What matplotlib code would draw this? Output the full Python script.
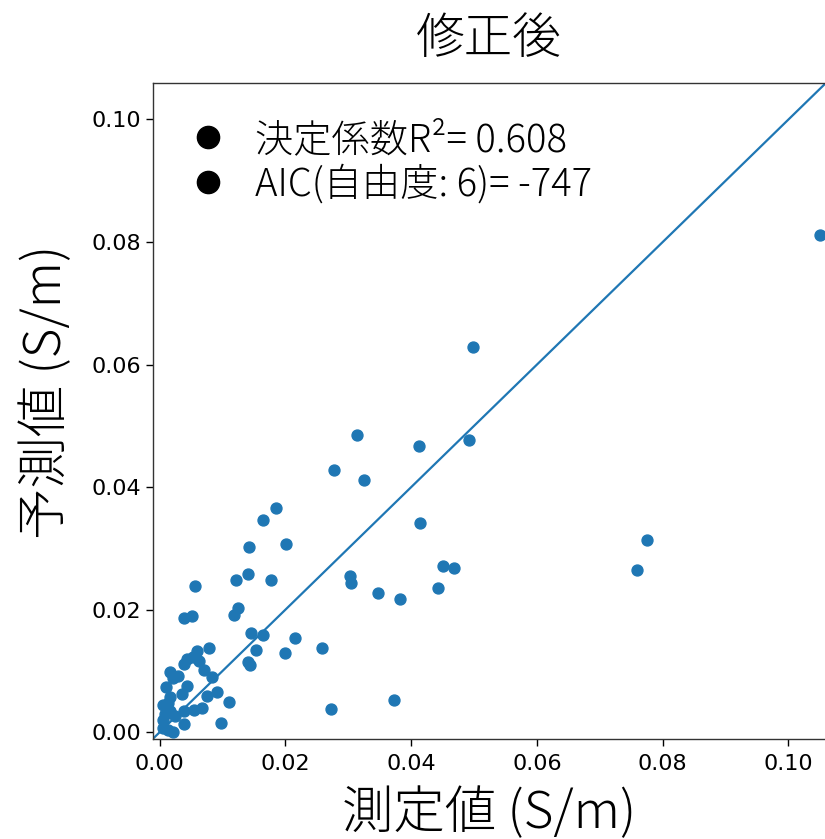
import matplotlib
matplotlib.use("Agg")
import matplotlib.pyplot as plt
from matplotlib.lines import Line2D
import numpy as np

# measured (x) and predicted (y) values, S/m
measured = [0.1050, 0.0499, 0.0314, 0.0492, 0.0412, 0.0277, 0.0325, 0.0185, 0.0165, 0.0414,
            0.0142, 0.0201, 0.0775, 0.0759, 0.0450, 0.0468, 0.0443, 0.0303, 0.0305, 0.0347,
            0.0383, 0.0140, 0.0177, 0.0121, 0.0057, 0.0038, 0.0052, 0.0118, 0.0125, 0.0145,
            0.0165, 0.0216, 0.0153, 0.0200, 0.0258, 0.0141, 0.0144, 0.0273, 0.0372, 0.0078,
            0.0059, 0.0053, 0.0043, 0.0062, 0.0038, 0.0070, 0.0084, 0.0016, 0.0022, 0.0030,
            0.0043, 0.0010, 0.0035, 0.0075, 0.0091, 0.0111, 0.0017, 0.0006, 0.0014, 0.0009,
            0.0017, 0.0038, 0.0054, 0.0067, 0.0006, 0.0038, 0.0098, 0.0025, 0.0006, 0.0014,
            0.0022]
predicted = [0.0811, 0.0629, 0.0485, 0.0477, 0.0467, 0.0428, 0.0412, 0.0366, 0.0346, 0.0342,
             0.0303, 0.0307, 0.0313, 0.0264, 0.0271, 0.0268, 0.0236, 0.0255, 0.0244, 0.0228,
             0.0217, 0.0258, 0.0249, 0.0249, 0.0238, 0.0186, 0.0189, 0.0192, 0.0202, 0.0162,
             0.0158, 0.0154, 0.0135, 0.0129, 0.0137, 0.0114, 0.0109, 0.0038, 0.0052, 0.0137,
             0.0132, 0.0123, 0.0119, 0.0116, 0.0112, 0.0102, 0.0090, 0.0098, 0.0089, 0.0091,
             0.0076, 0.0074, 0.0063, 0.0059, 0.0066, 0.0049, 0.0058, 0.0045, 0.0048, 0.0030,
             0.0034, 0.0034, 0.0036, 0.0040, 0.0020, 0.0014, 0.0015, 0.0027, 0.0007, 0.0003,
             0.0000]

axis_limits = [-0.0011, 0.1059]
tick_values = [0.00, 0.02, 0.04, 0.06, 0.08, 0.10]
tick_labels = ["0.00", "0.02", "0.04", "0.06", "0.08", "0.10"]
legend_labels = ["決定係数R²= 0.608", "AIC(自由度: 6)= -747"]
title_text = "修正後"
xlabel_text = "測定値 (S/m)"
ylabel_text = "予測値 (S/m)"

CJK = ["Noto Sans CJK JP", "DejaVu Sans"]
BLUE = "#1f77b4"

fig = plt.figure(figsize=(8.25, 8.39), dpi=100)
ax = fig.add_axes([152.7 / 825, 1 - 739 / 839, (825.6 - 152.7) / 825, (739 - 83.3) / 839])

ax.scatter(measured, predicted, s=62, color=BLUE, zorder=3)
ax.plot(axis_limits, axis_limits, color=BLUE, lw=1.6, zorder=2)

ax.set_xlim(axis_limits)
ax.set_ylim(axis_limits)
ax.set_xticks(tick_values)
ax.set_xticklabels(tick_labels)
ax.set_yticks(tick_values)
ax.set_yticklabels(tick_labels)
ax.tick_params(labelsize=16, length=5, width=1.0)
ax.tick_params(axis="x", pad=6)
for sp in ax.spines.values():
    sp.set_linewidth(1.0)
    sp.set_color("#333333")

ax.set_title(title_text, family=CJK, fontsize=35, pad=22, fontweight="light")
ax.set_xlabel(xlabel_text, family=CJK, fontsize=37, labelpad=9, fontweight="light")
ax.set_ylabel(ylabel_text, family=CJK, fontsize=37, fontweight="light")
ax.yaxis.set_label_coords(-0.118, 0.53)

handles = [Line2D([], [], marker="o", color="black", linestyle="None", markersize=16)
           for _ in legend_labels]
ax.legend(handles, legend_labels, loc="upper left", bbox_to_anchor=(0.002, 0.996),
          frameon=False, prop={"family": CJK, "size": 27.5, "weight": "light"},
          handlelength=1.0, handletextpad=0.75, labelspacing=0.12,
          borderaxespad=0.0, borderpad=0.9)

fig.savefig("out.png", dpi=100)
